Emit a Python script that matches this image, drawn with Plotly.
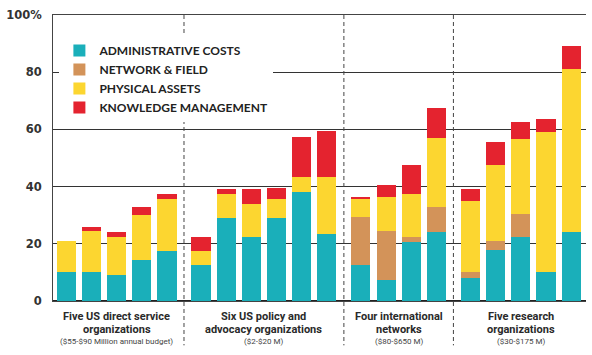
import plotly.graph_objects as go

# ---- data ----
group_titles = [
    "Five US direct service<br>organizations",
    "Six US policy and<br>advocacy organizations",
    "Four international<br>networks",
    "Five research<br>organizations",
]
group_notes = [
    "($55-$90 Million annual budget)",
    "($2-$20 M)",
    "($80-$650 M)",
    "($30-$175 M)",
]
group_sizes = [5, 6, 4, 5]

administrative = [10, 10, 9, 14.5, 17.5,
                  12.5, 29, 22.5, 29, 38, 23.5,
                  12.5, 7.5, 20.5, 24,
                  8, 18, 22.5, 10, 24]
network_field = [0, 0, 0, 0, 0,
                 0, 0, 0, 0, 0, 0,
                 17, 17, 2, 9,
                 2, 3, 8, 0, 0]
physical_assets = [11, 14.5, 13.5, 15.5, 18,
                   5, 8.5, 11.5, 6.5, 5.5, 20,
                   6, 12, 15, 24,
                   25, 26.5, 26, 49, 57]
knowledge_mgmt = [0, 1.5, 1.5, 3, 2,
                  5, 1.5, 5, 4, 14, 16,
                  1, 4, 10, 10.5,
                  4, 8, 6, 4.5, 8]

y_ticks = [0, 20, 40, 60, 80, 100]
y_tick_labels = ["0", "20", "40", "60", "80", "100%"]

series = [
    ("ADMINISTRATIVE COSTS", administrative, "#1AAFBA"),
    ("NETWORK & FIELD", network_field, "#D39359"),
    ("PHYSICAL ASSETS", physical_assets, "#FCD630"),
    ("KNOWLEDGE MANAGEMENT", knowledge_mgmt, "#E4232F"),
]

# ---- layout of bar slots (groups separated by an extra gap) ----
GROUP_GAP = 0.35
xpos, group_centers, separators = [], [], []
idx = 0
for g, n in enumerate(group_sizes):
    xs = [idx + j + g * GROUP_GAP for j in range(n)]
    xpos.extend(xs)
    group_centers.append((xs[0] + xs[-1]) / 2)
    idx += n
for g in range(len(group_sizes) - 1):
    end_prev = sum(group_sizes[:g + 1]) - 1 + g * GROUP_GAP
    separators.append((end_prev + end_prev + 1 + GROUP_GAP) / 2)

fig = go.Figure()
for name, vals, color in series:
    fig.add_trace(go.Bar(x=xpos, y=vals, name=name, marker_color=color,
                         marker_line_width=0, width=0.76))

for sx in separators:
    fig.add_shape(type="line", xref="x", yref="paper", x0=sx, x1=sx,
                  y0=1, y1=-0.155, line=dict(color="#444", width=1, dash="4px,3px"),
                  layer="above")

PLOT_H = 286  # plot-area height in px, used to place label lines below the axis
lbl_font = dict(family="Liberation Sans Narrow, Roboto, sans-serif", size=11,
                color="#2a2a2a", weight="bold")
note_font = dict(family="Liberation Sans Narrow, Roboto, sans-serif", size=8,
                 color="#444")
for cx, title, note in zip(group_centers, group_titles, group_notes):
    line1, line2 = title.split("<br>")
    fig.add_annotation(x=cx, xref="x", y=-15 / PLOT_H, yref="paper", yanchor="middle",
                       text=line1, showarrow=False, font=lbl_font)
    fig.add_annotation(x=cx, xref="x", y=-28 / PLOT_H, yref="paper", yanchor="middle",
                       text=line2, showarrow=False, font=lbl_font)
    fig.add_annotation(x=cx, xref="x", y=-40 / PLOT_H, yref="paper", yanchor="middle",
                       text=note, showarrow=False, font=note_font)

fig.update_layout(
    width=592, height=355,
    margin=dict(l=44, r=6, t=15, b=54),
    barmode="stack",
    plot_bgcolor="white", paper_bgcolor="white",
    showlegend=True,
    legend=dict(x=0.012, xanchor="left", y=0.927, yanchor="top",
                bgcolor="white", traceorder="normal",
                font=dict(family="Lato, sans-serif", size=12, color="#222",
                          weight="bold"),
                itemclick=False),
    xaxis=dict(range=[-0.527, 20.64], showticklabels=False, showgrid=False,
               zeroline=False, showline=True, mirror=True,
               linecolor="#444", linewidth=1),
    yaxis=dict(range=[0, 100], tickvals=y_ticks, ticktext=y_tick_labels,
               showgrid=True, gridcolor="#333", gridwidth=1,
               zeroline=True, zerolinecolor="#222", zerolinewidth=2,
               showline=True, linecolor="#444", linewidth=1,
               ticklabelstandoff=8,
               tickfont=dict(family="DejaVu Sans, sans-serif",
                             size=11.5, color="#333", weight="bold")),
)

fig.write_html("out.html", config={"displayModeBar": False},
               post_script="document.body.style.margin='0';")
